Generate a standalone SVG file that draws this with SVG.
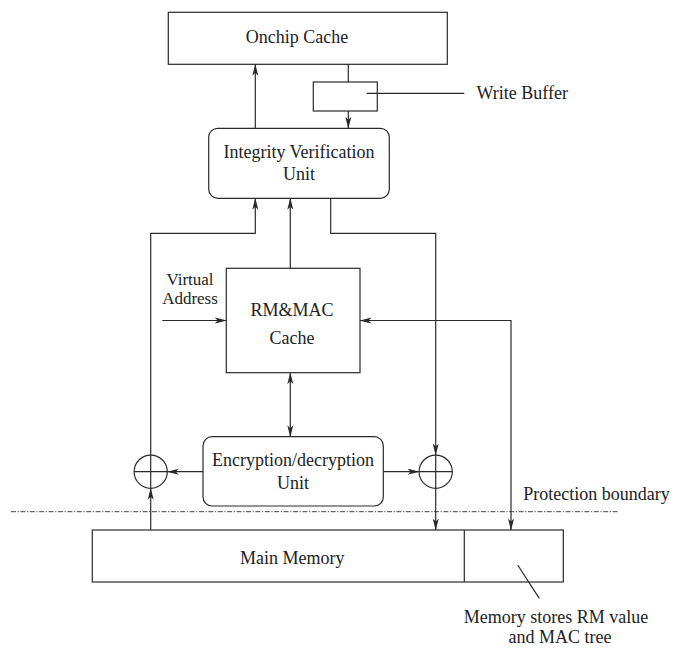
<svg xmlns="http://www.w3.org/2000/svg" width="674" height="649" viewBox="0 0 674 649">
<defs>
<style>
.box{fill:#fff;stroke:#2a2a2a;stroke-width:1.2}
.ln{fill:none;stroke:#2a2a2a;stroke-width:1.2}
.t{font-family:"Liberation Serif","Times New Roman",serif;font-size:18px;fill:#222}
.s{font-size:17px}
.c{text-anchor:middle}
</style>
<marker id="ah" viewBox="0 0 12 8" markerWidth="12" markerHeight="8" refX="11.5" refY="4" orient="auto-start-reverse" markerUnits="userSpaceOnUse">
<path d="M0,1 L12,4 L0,7 L3,4 z" fill="#2a2a2a"/>
</marker>
</defs>
<rect width="674" height="649" fill="#fff"/>

<g id="onchip-cache">
<rect class="box" x="168.3" y="12.3" width="279" height="52"/>
<text class="t c" x="297" y="42.5">Onchip Cache</text>
</g>

<g id="write-buffer">
<rect class="box" x="313.3" y="82" width="64" height="29"/>
</g>

<g id="write-buffer-label">
<text class="t" x="476.5" y="99">Write Buffer</text>
</g>

<g id="ivu">
<rect class="box" x="208.7" y="128.3" width="180.6" height="70" rx="9" ry="9"/>
<text class="t c" x="299" y="157.5">Integrity Verification</text>
<text class="t c" x="299" y="180">Unit</text>
</g>

<g id="virtual-address">
<text class="t s c" x="190" y="284.5">Virtual</text>
<text class="t s c" x="190" y="303.5">Address</text>
</g>

<g id="rmmac-cache">
<rect class="box" x="226.3" y="268.3" width="133.7" height="104.4"/>
<text class="t c" x="292" y="315.5">RM&amp;MAC</text>
<text class="t c" x="292" y="344">Cache</text>
</g>

<g id="enc-unit">
<rect class="box" x="203" y="436.7" width="180.3" height="69.3" rx="9" ry="9"/>
<text class="t c" x="293" y="466">Encryption/decryption</text>
<text class="t c" x="293" y="489">Unit</text>
</g>

<g id="xor-left">
<circle class="box" cx="150.7" cy="471.7" r="16.6"/>
<path class="ln" d="M134.1,471.7 H167.3 M150.7,455.1 V488.3"/>
</g>

<g id="xor-right">
<circle class="box" cx="435.7" cy="471.7" r="16.6"/>
<path class="ln" d="M419.1,471.7 H452.3 M435.7,455.1 V488.3"/>
</g>

<g id="protection-boundary">
<line x1="11" y1="511.7" x2="619.3" y2="511.7" stroke="#444" stroke-width="1" stroke-dasharray="5 1.6 1.2 1.6"/>
<text class="t" x="523.3" y="500">Protection boundary</text>
</g>

<g id="main-memory">
<rect class="box" x="92.3" y="530" width="471" height="52"/>
<line class="ln" x1="464.3" y1="530" x2="464.3" y2="582"/>
<text class="t c" x="292.3" y="564.3">Main Memory</text>
</g>

<g id="memory-label">
<text class="t c" x="556" y="623">Memory stores RM value</text>
<text class="t c" x="560" y="643">and MAC tree</text>
</g>

<g id="connectors">
<path class="ln" d="M255.3,128.3 V64.3" marker-end="url(#ah)"/>
<path class="ln" d="M348.3,64.3 V82"/>
<path class="ln" d="M348.3,111 V128.3" marker-end="url(#ah)"/>
<path class="ln" d="M366.7,93.3 H464.3"/>
<path class="ln" d="M150.7,455.1 V233.3 H255.3 V198.3" marker-end="url(#ah)"/>
<path class="ln" d="M290.3,268.3 V198.3" marker-end="url(#ah)"/>
<path class="ln" d="M330.7,198.3 V233.3 H435.7 V455.1" marker-end="url(#ah)"/>
<path class="ln" d="M162.3,320.5 H226.3" marker-end="url(#ah)"/>
<path class="ln" d="M360,320.5 H511 V530" marker-start="url(#ah)" marker-end="url(#ah)"/>
<path class="ln" d="M290.3,372.7 V436.7" marker-start="url(#ah)" marker-end="url(#ah)"/>
<path class="ln" d="M203,471.7 H167.3" marker-end="url(#ah)"/>
<path class="ln" d="M383.3,471.7 H419.1" marker-end="url(#ah)"/>
<path class="ln" d="M150.7,530 V488.3" marker-end="url(#ah)"/>
<path class="ln" d="M435.7,488.3 V530" marker-end="url(#ah)"/>
<path class="ln" d="M517.7,565 L539.3,598.3"/>
</g>
</svg>
